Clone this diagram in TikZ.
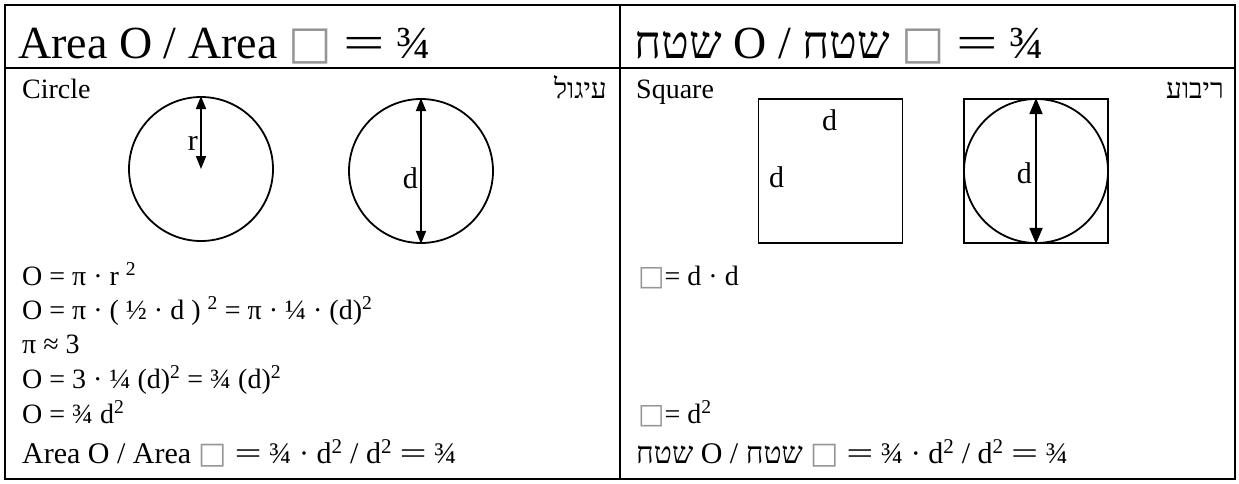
\documentclass[tikz,border=0pt]{standalone}
\usepackage{fontspec}
\setmainfont{Liberation Serif}
\newfontfamily\hebfont[Script=Hebrew]{Liberation Serif}
\newfontfamily\symfont{DejaVu Sans}
\usetikzlibrary{arrows.meta}
\TeXXeTstate=1
\definecolor{boxgray}{RGB}{150,150,150}
\newcommand{\heb}[1]{{\hebfont\beginR #1\endR}}
\newcommand{\sqbox}{{\symfont\color{boxgray}□}}
\newcommand{\weq}{\ \scalebox{1.6}[1]{=}\ }
\newcommand{\sqeq}{\sqbox\weq}

\begin{document}
\begin{tikzpicture}[x=1pt, y=-1pt,
    frame/.style={line width=2pt},
    round/.style={circle, draw, line width=1.8pt, minimum size=144pt, inner sep=0pt},
    squarebox/.style={rectangle, draw, line width=1.3pt, minimum size=144pt, inner sep=0pt},
    measure/.style={line width=1.8pt, {Triangle[length=13pt,width=10pt]}-{Triangle[length=13pt,width=10pt]}},
    bigmeasure/.style={line width=1.8pt, {Triangle[length=16pt,width=13pt]}-{Triangle[length=16pt,width=13pt]}},
    head/.style={inner sep=0pt, anchor=base west, font=\fontsize{46}{50}\selectfont},
    label/.style={inner sep=0pt, anchor=base west, font=\fontsize{28}{32}\selectfont},
    hlabel/.style={inner sep=0pt, anchor=base east, font=\fontsize{28}{32}\selectfont},
    dimtext/.style={inner sep=0pt, anchor=base east, font=\fontsize{30}{34}\selectfont},
    formula/.style={inner sep=0pt, anchor=base west, font=\fontsize{28}{32}\selectfont},
    result/.style={inner sep=0pt, anchor=base west, font=\fontsize{30}{34}\selectfont}
  ]
  \useasboundingbox (0,0) rectangle (1239,483);

  % table frame
  \draw[frame] (5,5) rectangle (1235,479);
  \draw[frame] (620,5) -- (620,479);
  \draw[frame] (5,68) -- (1235,68);

  % headers
  \node[head] (headL) at (18,58) {Area O / Area \sqeq¾};
  \node[head] (headR) at (634,58) {\heb{שטח} O / \heb{שטח} \sqeq¾};

  % circle column
  \node[label] (circ) at (22,98) {Circle};
  \node[hlabel] (circH) at (607,98) {\heb{עיגול}};
  \node[round] (cr) at (201,169) {};
  \draw[measure] (cr.north) -- (cr.center);
  \node[dimtext] (rlab) at (198,150) {r};
  \node[round] (cd) at (421,171) {};
  \draw[measure] (cd.north) -- (cd.south);
  \node[dimtext] (dlab) at (418,188) {d};

  % square column
  \node[label] (squ) at (636,98) {Square};
  \node[hlabel] (squH) at (1224,98) {\heb{ריבוע}};
  \node[squarebox] (sq) at (830.5,171) {};
  \node[dimtext, anchor=base west] (dtop) at (822,130) {d};
  \node[dimtext, anchor=base west] (dleft) at (769,187) {d};
  \node[squarebox] (sqc) at (1036,171) {};
  \node[round] (ci) at (1036,171) {};
  \draw[bigmeasure] (ci.north) -- (ci.south);
  \node[dimtext] (dlab2) at (1032,183) {d};

  % circle area
  \node[formula] (f1) at (22,285) {O = π · r \textsuperscript{2}};
  \node[formula] (f2) at (22,319) {O = π · ( ½ · d ) \textsuperscript{2} = π · ¼ · (d)\textsuperscript{2}};
  \node[formula] (f3) at (22,353) {π ≈ 3};
  \node[formula] (f4) at (22,388) {O = 3 · ¼ (d)\textsuperscript{2} = ¾ (d)\textsuperscript{2}};
  \node[formula] (f5) at (22,423) {O = ¾ d\textsuperscript{2}};
  \node[result] (f6) at (22,463) {Area O / Area \sqeq¾ · d\textsuperscript{2} / d\textsuperscript{2}\weq¾};

  % square area
  \node[formula] (g1) at (638,285) {\sqbox= d · d};
  \node[formula] (g2) at (638,423) {\sqbox= d\textsuperscript{2}};
  \node[result] (g3) at (636,463) {\heb{שטח} O / \heb{שטח} \sqeq¾ · d\textsuperscript{2} / d\textsuperscript{2}\weq¾};
\end{tikzpicture}
\end{document}
